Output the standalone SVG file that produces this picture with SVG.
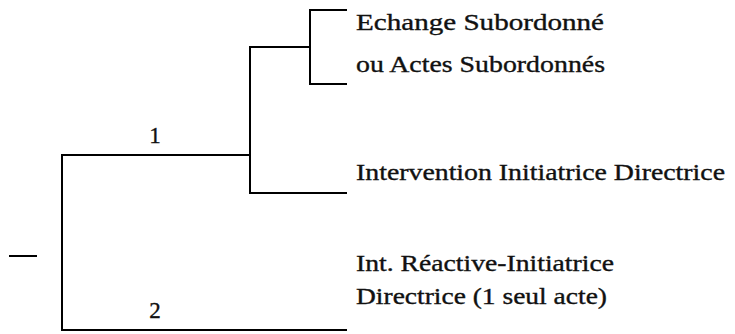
<svg xmlns="http://www.w3.org/2000/svg" width="735" height="334" viewBox="0 0 735 334">
<style>
.l{fill:none;stroke:#000;stroke-width:2;stroke-linecap:square}
.t{font-family:"Liberation Serif","Times New Roman",serif;font-size:23px;fill:#111;stroke:#111;stroke-width:0.35}
</style>
<rect width="735" height="334" fill="#fff"/>
<g id="connectors">
<path class="l" d="M62,155 V330 H346 M62,155 H250 M250,47 V193 H346 M250,47 H310 M310,10 V84 M310,10 H346 M310,84 H346"/>
<path class="l" d="M10,256 H36"/>
</g>
<g id="label1"><text class="t" x="155" y="143" text-anchor="middle">1</text></g>
<g id="label2"><text class="t" x="155" y="318" text-anchor="middle">2</text></g>
<g id="node-echange"><text class="t" x="356" y="30" textLength="248" lengthAdjust="spacingAndGlyphs">Echange Subordonné</text><text class="t" x="356" y="72" textLength="249" lengthAdjust="spacingAndGlyphs">ou Actes Subordonnés</text></g>
<g id="node-intervention"><text class="t" x="356" y="180" textLength="369" lengthAdjust="spacingAndGlyphs">Intervention Initiatrice Directrice</text></g>
<g id="node-reactive"><text class="t" x="356" y="271" textLength="258" lengthAdjust="spacingAndGlyphs">Int. Réactive-Initiatrice</text><text class="t" x="356" y="304" textLength="251" lengthAdjust="spacingAndGlyphs">Directrice (1 seul acte)</text></g>
</svg>
